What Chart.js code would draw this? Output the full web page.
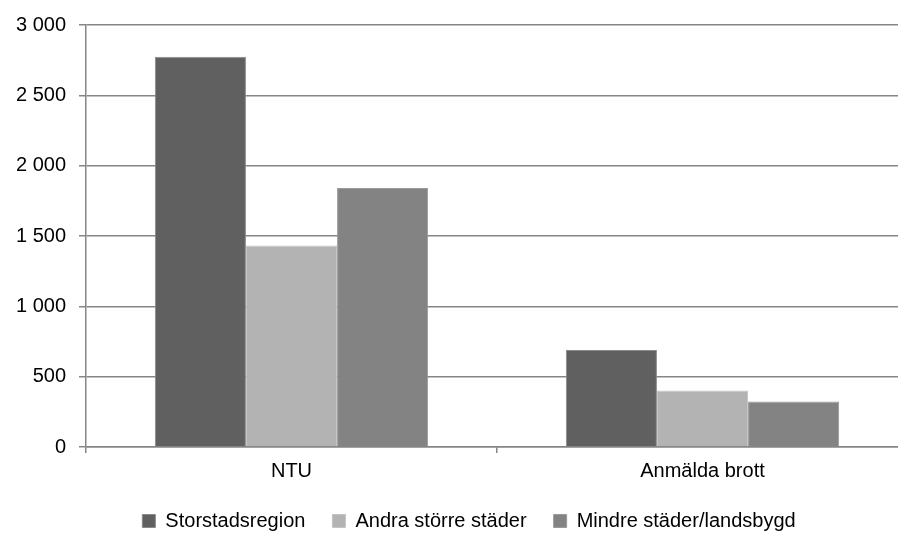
<!DOCTYPE html>
<html>
<head>
<meta charset="utf-8">
<script src="https://cdn.jsdelivr.net/npm/chart.js@4"></script>
<style>
  html, body { margin: 0; padding: 0; background: #fff; overflow: hidden; }
  #chart-container { position: relative; width: 940px; height: 533px; }
</style>
</head>
<body>
<div id="chart-container"><canvas id="myChart"></canvas></div>
<script>
// chart data
const categories = ['NTU', 'Anmälda brott'];
const seriesNames = ['Storstadsregion', 'Andra större städer', 'Mindre städer/landsbygd'];
const storstad = [2775, 689];
const andra = [1433, 401];
const mindre = [1841, 323];
const yTicks = [0, 500, 1000, 1500, 2000, 2500, 3000];

const fills = ['#606060', '#b3b3b3', '#838383'];
const edges = ['#8a8a8a', '#c4c4c4', '#9a9a9a'];
const lineGrey = '#868686';
const fontFamily = 'Liberation Sans, Arial, sans-serif';

function spaced(v) {
  return String(v).replace(/\B(?=(\d{3})+(?!\d))/g, ' ');
}

// legend: fixed height and a small shift to the right, like the original
const legendTweak = {
  id: 'legendTweak',
  beforeLayout: function(chart) {
    let legend = chart.legend;
    if (legend && !legend._tweaked) {
      let origFit = legend.fit;
      legend.fit = function() {
        origFit.call(this);
        this.height = 49;
      };
      legend._tweaked = true;
    }
  },
  afterLayout: function(chart) {
    if (chart.legend) {
      chart.legend.left += 15;
      chart.legend.right += 15;
    }
  }
};

let ctx = document.getElementById('myChart');
let myChart = new Chart(ctx, {
  type: 'bar',
  data: {
    labels: categories,
    datasets: [storstad, andra, mindre].map(function(vals, i) {
      return {
        label: seriesNames[i],
        data: vals,
        backgroundColor: fills[i],
        borderColor: edges[i],
        borderWidth: 1,
        barPercentage: 1,
        categoryPercentage: 0.665
      };
    })
  },
  plugins: [legendTweak],
  options: {
    responsive: true,
    maintainAspectRatio: false,
    animation: false,
    layout: {
      padding: { left: 0, right: 32, top: 15, bottom: 0 }
    },
    plugins: {
      tooltip: { enabled: false },
      legend: {
        position: 'bottom',
        labels: {
          color: '#000',
          font: { family: fontFamily, size: 20 },
          boxWidth: 13,
          boxHeight: 13,
          padding: 27
        }
      }
    },
    scales: {
      x: {
        afterFit: function(axis) {
          axis.height = 37;
        },
        grid: {
          drawOnChartArea: false,
          drawTicks: true,
          tickLength: 6,
          color: lineGrey,
          lineWidth: 1.5
        },
        border: { color: lineGrey, width: 1.5 },
        ticks: {
          color: '#000',
          padding: 6,
          font: { family: fontFamily, size: 20 }
        }
      },
      y: {
        min: 0,
        max: 3000,
        afterBuildTicks: function(axis) {
          axis.ticks = yTicks.map(function(v) { return { value: v }; });
        },
        afterFit: function(axis) {
          axis.width = 86;
        },
        grid: {
          color: lineGrey,
          lineWidth: 1.5,
          tickLength: 7
        },
        border: { color: lineGrey, width: 1.5 },
        ticks: {
          color: '#000',
          padding: 13,
          font: { family: fontFamily, size: 20 },
          callback: function(value) { return spaced(value); }
        }
      }
    }
  }
});
</script>
</body>
</html>
